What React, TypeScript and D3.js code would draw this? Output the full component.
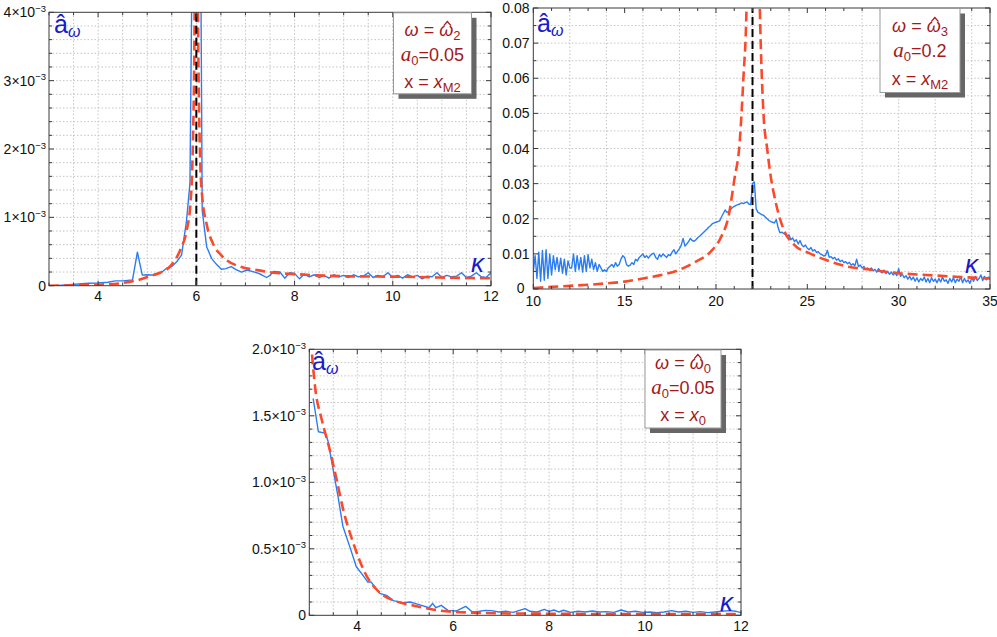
import React from "react";
import * as d3 from "d3";

type Pt = [number, number];

// ---------- Panel A (top-left): ω = ω̂2, a0 = 0.05, x = xM2 (values ×1e-3)
const aBlue: Pt[] = [
  [3.0, 0], [3.2, 0.005], [3.4, 0.015], [3.6, 0.025], [3.8, 0.035], [4.0, 0.04], [4.2, 0.05],
  [4.35, 0.07], [4.5, 0.07], [4.7, 0.085], [4.8, 0.49], [4.9, 0.155], [5.0, 0.16], [5.15, 0.155],
  [5.3, 0.2], [5.4, 0.26], [5.5, 0.28], [5.6, 0.35], [5.7, 0.45], [5.8, 0.95], [5.87, 1.5],
  [5.93, 6], [6.08, 6], [6.12, 1.1], [6.21, 0.57], [6.31, 0.4], [6.4, 0.32], [6.51, 0.24],
  [6.6, 0.25], [6.71, 0.28], [6.8, 0.24], [6.92, 0.2], [7.03, 0.23], [7.13, 0.21], [7.23, 0.19],
  [7.33, 0.16], [7.43, 0.12], [7.5, 0.15], [7.57, 0.21], [7.7, 0.2], [7.8, 0.11], [7.9, 0.19],
  [8.0, 0.18], [8.1, 0.1], [8.2, 0.17], [8.3, 0.13], [8.4, 0.16], [8.5, 0.12], [8.6, 0.15],
  [8.7, 0.11], [8.8, 0.16], [8.9, 0.13], [9.0, 0.15], [9.1, 0.12], [9.2, 0.16], [9.3, 0.13],
  [9.4, 0.14], [9.5, 0.19], [9.6, 0.12], [9.7, 0.15], [9.8, 0.13], [9.9, 0.19], [10.0, 0.12],
  [10.1, 0.15], [10.2, 0.11], [10.3, 0.16], [10.4, 0.13], [10.5, 0.15], [10.6, 0.1], [10.7, 0.14],
  [10.8, 0.13], [10.9, 0.19], [11.0, 0.12], [11.1, 0.15], [11.2, 0.13], [11.3, 0.14], [11.4, 0.19],
  [11.5, 0.12], [11.6, 0.14], [11.7, 0.19], [11.8, 0.13], [11.9, 0.12], [12.0, 0.19],
];
const aRed: Pt[] = [
  [3.0, 0], [3.5, 0.005], [4.0, 0.015], [4.5, 0.04], [4.85, 0.09], [5.05, 0.14], [5.26, 0.19],
  [5.45, 0.27], [5.67, 0.52], [5.8, 0.8], [5.88, 1.2], [5.92, 1.8], [5.96, 3.5], [6.0, 8],
  [6.04, 3.5], [6.08, 1.8], [6.12, 1.3], [6.21, 0.9], [6.35, 0.6], [6.5, 0.45], [6.62, 0.37],
  [6.89, 0.28], [7.23, 0.23], [7.57, 0.19], [8.0, 0.17], [8.93, 0.14], [10.28, 0.13], [11.91, 0.11],
  [12.0, 0.11],
];
const aXTicks = [4, 6, 8, 10, 12];
const aYTicks = [0, 1, 2, 3, 4];
const aResonance = 6;

// ---------- Panel B (top-right): ω = ω̂3, a0 = 0.2, x = xM2
const bBlueStart = 10;
const bBlueStep = 0.1;
const bBlueVals = [
  0.0050, 0.0095, 0.0030, 0.0105, 0.0022, 0.0110, 0.0025, 0.0112, 0.0030, 0.0100,
  0.0040, 0.0095, 0.0055, 0.0090, 0.0050, 0.0088, 0.0045, 0.0085, 0.0040, 0.0080,
  0.0060, 0.0060, 0.0100, 0.0050, 0.0095, 0.0055, 0.0090, 0.0048, 0.0095, 0.0050,
  0.0098, 0.0060, 0.0085, 0.0055, 0.0075, 0.0050, 0.0070, 0.0060, 0.0050, 0.0055,
  0.0050, 0.0060, 0.0065, 0.0070, 0.0062, 0.0075, 0.0065, 0.0070, 0.0085, 0.0095,
  0.0090, 0.0070, 0.0065, 0.0068, 0.0075, 0.0070, 0.0085, 0.0080, 0.0090, 0.0095,
  0.0100, 0.0090, 0.0095, 0.0088, 0.0095, 0.0100, 0.0102, 0.0090, 0.0085, 0.0098,
  0.0092, 0.0100, 0.0095, 0.0090, 0.0098, 0.0095, 0.0105, 0.0112, 0.0100, 0.0108,
  0.0115, 0.0125, 0.0144, 0.0122, 0.0128, 0.0135, 0.0144, 0.0138, 0.0136, 0.0140,
  0.0146, 0.0150, 0.0155, 0.0160, 0.0165, 0.0170, 0.0176, 0.0180, 0.0186, 0.0188,
  0.0190, 0.0192, 0.0194, 0.0205, 0.0215, 0.0225, 0.0218, 0.0220, 0.0226, 0.0232,
  0.0235, 0.0238, 0.0240, 0.0242, 0.0245, 0.0243, 0.0246, 0.0248, 0.0242, 0.0240,
  0.0300, 0.0305, 0.0228, 0.0218, 0.0215, 0.0212, 0.0210, 0.0205, 0.0200, 0.0195,
  0.0192, 0.0190, 0.0188, 0.0198, 0.0175, 0.0160, 0.0162, 0.0158, 0.0155, 0.0150,
  0.0154, 0.0140, 0.0145, 0.0135, 0.0140, 0.0128, 0.0138, 0.0125, 0.0120, 0.0125,
  0.0116, 0.0112, 0.0118, 0.0108, 0.0112, 0.0104, 0.0106, 0.0100, 0.0098, 0.0094,
  0.0096, 0.0110, 0.0090, 0.0092, 0.0086, 0.0090, 0.0082, 0.0086, 0.0078, 0.0082,
  0.0075, 0.0078, 0.0072, 0.0076, 0.0068, 0.0072, 0.0066, 0.0085, 0.0064, 0.0068,
  0.0060, 0.0064, 0.0056, 0.0060, 0.0054, 0.0060, 0.0052, 0.0056, 0.0048, 0.0058,
  0.0050, 0.0046, 0.0054, 0.0044, 0.0050, 0.0042, 0.0048, 0.0040, 0.0046, 0.0038,
  0.0058, 0.0036, 0.0042, 0.0032, 0.0038, 0.0028, 0.0036, 0.0026, 0.0034, 0.0022,
  0.0032, 0.0020, 0.0030, 0.0024, 0.0034, 0.0020, 0.0030, 0.0018, 0.0032, 0.0022,
  0.0028, 0.0018, 0.0030, 0.0020, 0.0034, 0.0022, 0.0026, 0.0016, 0.0030, 0.0020,
  0.0032, 0.0018, 0.0028, 0.0022, 0.0034, 0.0018, 0.0030, 0.0020, 0.0026, 0.0016,
  0.0032, 0.0022, 0.0036, 0.0024, 0.0030, 0.0040, 0.0024, 0.0036, 0.0026, 0.0034,
  0.0030,
];
const bRed: Pt[] = [
  [10, 0.0003], [11, 0.0006], [12, 0.0009], [13, 0.0012], [14, 0.0016], [15, 0.0021],
  [16, 0.003], [17, 0.004], [18, 0.0055], [18.9, 0.0078], [19.7, 0.0106], [20.3, 0.015],
  [20.7, 0.021], [21.0, 0.031], [21.3, 0.042], [21.5, 0.06], [21.67, 0.08], [21.85, 0.15],
  [22.0, 0.3], [22.18, 0.15], [22.4, 0.08], [22.6, 0.05], [22.8, 0.04], [23.0, 0.032],
  [23.3, 0.024], [23.7, 0.017], [24.3, 0.0125], [25.1, 0.0102], [26.0, 0.0083], [27.1, 0.0065],
  [28.6, 0.0054], [30, 0.0045], [31.5, 0.004], [33.1, 0.0035], [35, 0.003],
];
const bXTicks = [10, 15, 20, 25, 30, 35];
const bYTicks = [0, 0.01, 0.02, 0.03, 0.04, 0.05, 0.06, 0.07, 0.08];
const bResonance = 22;

// ---------- Panel C (bottom): ω = ω̂0, a0 = 0.05, x = x0 (values ×1e-3)
const cBlue: Pt[] = [
  [3.08, 1.63], [3.19, 1.38], [3.33, 1.37], [3.39, 1.31], [3.5, 1.09], [3.6, 0.89], [3.7, 0.67],
  [3.84, 0.52], [3.98, 0.365], [4.12, 0.3], [4.22, 0.25], [4.29, 0.25], [4.47, 0.165], [4.61, 0.15],
  [4.75, 0.11], [4.96, 0.095], [5.1, 0.1], [5.2, 0.09], [5.34, 0.075], [5.5, 0.057], [5.57, 0.09],
  [5.64, 0.057], [5.75, 0.075], [5.89, 0.037], [6.06, 0.032], [6.26, 0.067], [6.4, 0.025],
  [6.55, 0.03], [6.67, 0.037], [6.8, 0.035], [6.95, 0.025], [7.1, 0.03], [7.25, 0.022], [7.5, 0.05],
  [7.6, 0.03], [7.75, 0.025], [7.9, 0.045], [8.0, 0.03], [8.1, 0.04], [8.2, 0.025], [8.3, 0.038],
  [8.45, 0.022], [8.6, 0.03], [8.75, 0.025], [8.9, 0.032], [9.05, 0.025], [9.2, 0.028],
  [9.35, 0.022], [9.5, 0.04], [9.65, 0.025], [9.8, 0.03], [9.95, 0.022], [10.1, 0.025],
  [10.25, 0.02], [10.4, 0.025], [10.55, 0.035], [10.7, 0.025], [10.85, 0.03], [11.0, 0.022],
  [11.15, 0.028], [11.3, 0.02], [11.45, 0.025], [11.6, 0.03], [11.75, 0.035], [11.9, 0.03],
  [12.0, 0.02],
];
const cRed: Pt[] = [
  [3.0, 2.3], [3.05, 2.0], [3.12, 1.72], [3.26, 1.47], [3.43, 1.24], [3.57, 1.02], [3.71, 0.79],
  [3.92, 0.54], [4.16, 0.32], [4.47, 0.17], [4.81, 0.105], [5.15, 0.075], [5.43, 0.053],
  [5.85, 0.03], [6.4, 0.02], [7, 0.015], [8, 0.012], [9, 0.01], [10, 0.01], [11, 0.01], [12, 0.01],
];
const cXTicks = [4, 6, 8, 10, 12];
const cYTicks = [0, 0.5, 1.0, 1.5, 2.0];

// ---------- styles
const FONT = "'Liberation Sans', Arial, Helvetica, sans-serif";
const BLUE = "#2a7cf2";
const RED = "#fb4a2a";
const DARKRED = "#a3181b";
const LBLUE = "#1a1ac8";
const FRAME = "#3a3a3a";
const GRID = "#c4c4c4";
const TICKFS = 14;
const LEGFS = 18;
const SUBFS = 13;

let measureCtx: CanvasRenderingContext2D | null = null;
function measure(text: string, font: string, fallback: number): number {
  try {
    if (!measureCtx && typeof document !== "undefined") {
      measureCtx = document.createElement("canvas").getContext("2d");
    }
    if (measureCtx) {
      measureCtx.font = font;
      return measureCtx.measureText(text).width;
    }
  } catch (e) {
    /* ignore */
  }
  return fallback;
}

type Legend = { omegaSub: string; a0: string; xItalic: string; xSub: string };

type PanelCfg = {
  id: string;
  left: number; right: number; top: number; bottom: number;
  xDom: [number, number]; yDom: [number, number];
  xTicks: number[]; yTicks: number[];
  xMinor: number[]; yMinor: number[];
  xGrid: number[]; yGrid: number[];
  yLabel: (v: number) => React.ReactNode;
  blue: Pt[]; red: Pt[];
  resonance?: number;
  legendBox: { x: number; y: number; w: number; h: number; baselines: number[] };
  legend: Legend;
  aLabel: { x: number; y: number };
  kappa: { x: number; y: number };
  xLabelY: number;
  yLabelX: number;
  zeroShift: number;
};

const sci = (digits: number) => (v: number) =>
  v === 0 ? "0" : (
    <>
      {v.toFixed(digits)}×10
      <tspan dy={-5.5} fontSize={9.5}>−3</tspan>
    </>
  );

const bBlue: Pt[] = bBlueVals.map((v, i) => [bBlueStart + i * bBlueStep, v]);

const panels: PanelCfg[] = [
  {
    id: "a", left: 49, right: 491, top: 12.3, bottom: 285.7,
    xDom: [3, 12], yDom: [0, 4],
    xTicks: aXTicks, yTicks: aYTicks,
    xMinor: d3.range(3, 12.001, 0.5), yMinor: d3.range(0, 4.001, 0.2),
    xGrid: d3.range(3.5, 12, 0.5), yGrid: d3.range(0.2, 4, 0.2),
    yLabel: sci(0), blue: aBlue, red: aRed, resonance: aResonance,
    legendBox: { x: 393.5, y: 12.8, w: 78, h: 81, baselines: [36, 61, 88] },
    legend: { omegaSub: "2", a0: "0.05", xItalic: "x", xSub: "M2" },
    aLabel: { x: 54, y: 33 }, kappa: { x: 471, y: 272 },
    xLabelY: 301, yLabelX: 46, zeroShift: 0,
  },
  {
    id: "b", left: 533.3, right: 990, top: 8, bottom: 289,
    xDom: [10, 35], yDom: [0, 0.08],
    xTicks: bXTicks, yTicks: bYTicks,
    xMinor: d3.range(10, 35.001, 1), yMinor: d3.range(0, 0.0801, 0.005),
    xGrid: d3.range(12, 35, 2), yGrid: d3.range(0.005, 0.08, 0.005),
    yLabel: (v) => (v === 0 ? "0" : v.toFixed(2)),
    blue: bBlue, red: bRed, resonance: bResonance,
    legendBox: { x: 880, y: 8.5, w: 80, h: 84, baselines: [32, 57, 85] },
    legend: { omegaSub: "3", a0: "0.2", xItalic: "x", xSub: "M2" },
    aLabel: { x: 537, y: 32 }, kappa: { x: 965, y: 273 },
    xLabelY: 305.5, yLabelX: 529.5, zeroShift: -5,
  },
  {
    id: "c", left: 309.3, right: 741, top: 349.3, bottom: 615.3,
    xDom: [3, 12], yDom: [0, 2],
    xTicks: cXTicks, yTicks: cYTicks,
    xMinor: d3.range(3, 12.001, 0.5), yMinor: d3.range(0, 2.001, 0.1),
    xGrid: d3.range(3.5, 12, 0.5), yGrid: d3.range(0.1, 2, 0.1),
    yLabel: sci(1), blue: cBlue, red: cRed,
    legendBox: { x: 645, y: 350, w: 76, h: 78, baselines: [369, 394, 421] },
    legend: { omegaSub: "0", a0: "0.05", xItalic: "x", xSub: "0" },
    aLabel: { x: 312, y: 370 }, kappa: { x: 720, y: 611 },
    xLabelY: 630.5, yLabelX: 306, zeroShift: 0,
  },
];

function OmegaLine({ cx, y, sub }: { cx: number; y: number; sub: string }) {
  const itFont = `italic ${LEGFS}px 'Liberation Sans', Arial, sans-serif`;
  const upFont = `${LEGFS}px 'Liberation Sans', Arial, sans-serif`;
  const subFont = `${SUBFS}px 'Liberation Sans', Arial, sans-serif`;
  const wOm = measure("ω", itFont, 11.5);
  const wEq = measure(" = ", upFont, 20.5);
  const wSub = measure(sub, subFont, 7.2);
  const total = wOm + wEq + wOm + wSub;
  const x0 = cx - total / 2;
  const hx = x0 + wOm + wEq + wOm / 2 + 1.2;
  const hy = y - LEGFS * 0.58;
  return (
    <g>
      <text x={x0} y={y} fontSize={LEGFS} fontFamily={FONT} fill={DARKRED}>
        <tspan fontStyle="italic">ω</tspan> = <tspan fontStyle="italic">ω</tspan>
        <tspan fontSize={SUBFS} dy={4}>{sub}</tspan>
      </text>
      <path d={`M${hx - 3.6},${hy} L${hx},${hy - 4} L${hx + 3.6},${hy}`} fill="none"
        stroke={DARKRED} strokeWidth={1.3} strokeLinejoin="miter" />
    </g>
  );
}

function Panel({ p }: { p: PanelCfg }) {
  const x = d3.scaleLinear().domain(p.xDom).range([p.left, p.right]);
  const y = d3.scaleLinear().domain(p.yDom).range([p.bottom, p.top]);
  const lineBlue = d3.line<Pt>().x((d) => x(d[0])).y((d) => y(d[1]));
  const lineRed = d3
    .line<Pt>()
    .x((d) => x(d[0]))
    .y((d) => y(d[1]))
    .curve(d3.curveMonotoneX);
  const clipId = `clip-${p.id}`;
  const isMajorX = (v: number) => p.xTicks.some((t) => Math.abs(t - v) < 1e-6);
  const isMajorY = (v: number) => p.yTicks.some((t) => Math.abs(t - v) < 1e-9);
  const lb = p.legendBox;
  const cx = lb.x + lb.w / 2;
  return (
    <g>
      <defs>
        <clipPath id={clipId}>
          <rect x={p.left} y={p.top} width={p.right - p.left} height={p.bottom - p.top} />
        </clipPath>
      </defs>
      {/* grid */}
      {p.xGrid.map((g) => (
        <line key={"gx" + g} x1={x(g)} x2={x(g)} y1={p.top} y2={p.bottom}
          stroke={GRID} strokeWidth={1} strokeDasharray="1.5,2" />
      ))}
      {p.yGrid.map((g) => (
        <line key={"gy" + g} x1={p.left} x2={p.right} y1={y(g)} y2={y(g)}
          stroke={GRID} strokeWidth={1} strokeDasharray="1.5,2" />
      ))}
      {/* curves */}
      <g clipPath={`url(#${clipId})`}>
        <path d={lineBlue(p.blue) || ""} fill="none" stroke={BLUE} strokeWidth={1.4} strokeLinejoin="round" />
        <path d={lineRed(p.red) || ""} fill="none" stroke={RED} strokeWidth={2.6} strokeDasharray="10,5" />
        {p.resonance !== undefined && (
          <line x1={x(p.resonance)} x2={x(p.resonance)} y1={p.bottom} y2={p.top}
            stroke="#000" strokeWidth={2} strokeDasharray="8,4" />
        )}
      </g>
      {/* frame */}
      <rect x={p.left} y={p.top} width={p.right - p.left} height={p.bottom - p.top}
        fill="none" stroke={FRAME} strokeWidth={1} />
      {/* ticks */}
      {p.xMinor.map((t) => {
        const L = isMajorX(t) ? 5 : 3;
        return (
          <g key={"tx" + t}>
            <line x1={x(t)} x2={x(t)} y1={p.bottom} y2={p.bottom - L} stroke={FRAME} />
            <line x1={x(t)} x2={x(t)} y1={p.top} y2={p.top + L} stroke={FRAME} />
          </g>
        );
      })}
      {p.yMinor.map((t) => {
        const L = isMajorY(t) ? 5 : 3;
        return (
          <g key={"ty" + t}>
            <line x1={p.left} x2={p.left + L} y1={y(t)} y2={y(t)} stroke={FRAME} />
            <line x1={p.right} x2={p.right - L} y1={y(t)} y2={y(t)} stroke={FRAME} />
          </g>
        );
      })}
      {/* tick labels */}
      {p.xTicks.map((t) => (
        <text key={"lx" + t} x={x(t)} y={p.xLabelY} textAnchor="middle"
          fontSize={TICKFS} fontFamily={FONT} fill="#111">{t}</text>
      ))}
      {p.yTicks.map((t) => (
        <text key={"ly" + t} x={p.yLabelX + (t === 0 ? p.zeroShift : 0)}
          y={y(t) + (t === 0 && p.zeroShift ? 3.5 : 5)} textAnchor="end"
          fontSize={TICKFS} fontFamily={FONT} fill="#111">{p.yLabel(t)}</text>
      ))}
      {/* â_ω label */}
      <text x={p.aLabel.x} y={p.aLabel.y} fontFamily={FONT} fill={LBLUE}>
        <tspan fontSize={25}>â</tspan>
        <tspan fontSize={16} fontStyle="italic" dy={4}>ω</tspan>
      </text>
      {/* kappa */}
      <text x={p.kappa.x} y={p.kappa.y} fontFamily={FONT} fontSize={26}
        fontStyle="italic" fill={LBLUE}>κ</text>
      {/* legend */}
      <rect x={lb.x + 5} y={lb.y + 5} width={lb.w} height={lb.h} fill="#666" />
      <rect x={lb.x} y={lb.y} width={lb.w} height={lb.h} fill="#fff" stroke="#999" strokeWidth={1} />
      <OmegaLine cx={cx} y={lb.baselines[0]} sub={p.legend.omegaSub} />
      <text x={cx} y={lb.baselines[1]} textAnchor="middle" fontSize={LEGFS} fontFamily={FONT} fill={DARKRED}>
        <tspan fontStyle="italic" fontFamily="'Liberation Serif', serif" fontSize={21}>a</tspan>
        <tspan fontSize={SUBFS} dy={4}>0</tspan>
        <tspan dy={-4}>={p.legend.a0}</tspan>
      </text>
      <text x={cx} y={lb.baselines[2]} textAnchor="middle" fontSize={LEGFS} fontFamily={FONT} fill={DARKRED}>
        x = <tspan fontStyle="italic">{p.legend.xItalic}</tspan>
        <tspan fontSize={SUBFS} dy={4}>{p.legend.xSub}</tspan>
      </text>
    </g>
  );
}

export default function App() {
  return (
    <div style={{ position: "absolute", left: 0, top: 0 }}>
      <svg width={997} height={637} viewBox="0 0 997 637" style={{ display: "block", background: "#fff" }}>
        {panels.map((p) => (
          <Panel key={p.id} p={p} />
        ))}
      </svg>
    </div>
  );
}
